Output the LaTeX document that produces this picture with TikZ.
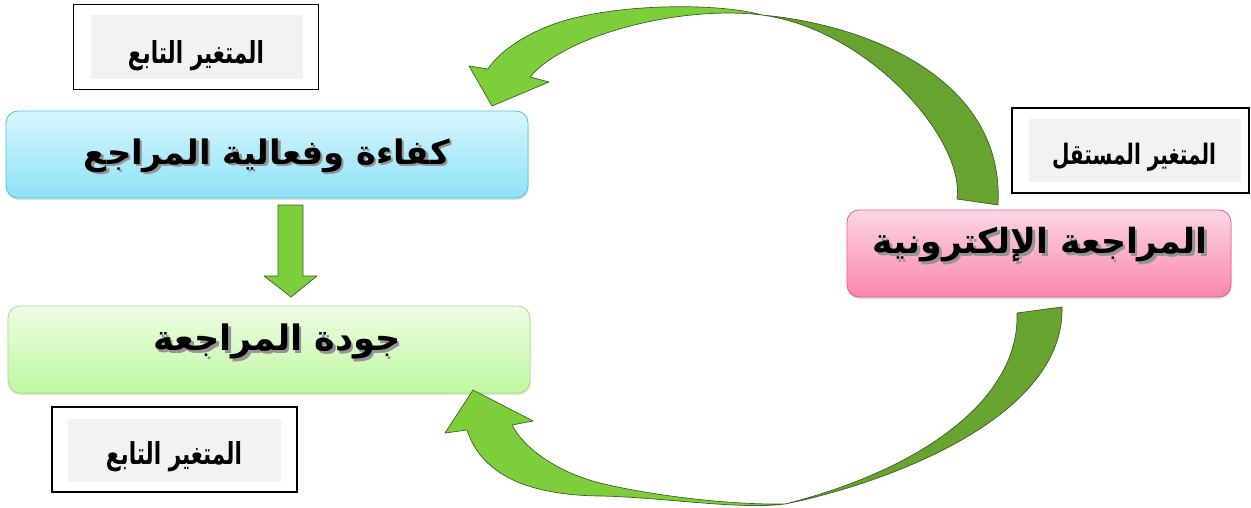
\documentclass[tikz,border=0pt]{standalone}
\usepackage{fontspec}
\usetikzlibrary{shadows}
\TeXXeTstate=1
\newfontfamily\arabicfont[Script=Arabic]{DejaVu Sans}
\newcommand{\artxt}[1]{{\arabicfont\beginR #1\endR}}
\newcommand{\shadowed}[1]{\leavevmode\rlap{\kern2.5pt\raisebox{-2.5pt}{\textcolor{black!42}{#1}}}#1}
\definecolor{bluetop}{HTML}{D8F6FD}
\definecolor{bluebot}{HTML}{8DE2F9}
\definecolor{blueline}{HTML}{52C2E4}
\definecolor{greentop}{HTML}{EEFDE4}
\definecolor{greenbot}{HTML}{BFF8A0}
\definecolor{greenline}{HTML}{A6DE86}
\definecolor{pinktop}{HTML}{FDD6E4}
\definecolor{pinkbot}{HTML}{FA86B0}
\definecolor{pinkline}{HTML}{E65A92}
\definecolor{arrlight}{HTML}{7CCF3A}
\definecolor{arrdark}{HTML}{66A32F}
\definecolor{arrline}{HTML}{3F5F28}
\definecolor{labgray}{HTML}{F2F2F2}
\begin{document}
\begin{tikzpicture}[x=1pt,y=-1pt,
  mainbox/.style={rounded corners=12pt, minimum height=87pt, line width=0.8pt,
    inner sep=0pt, drop shadow={opacity=0.25, shadow xshift=0.5pt, shadow yshift=-2pt}},
  labouter/.style={draw=black, line width=1.6pt, fill=white, inner sep=0pt},
  labinner/.style={fill=labgray, inner sep=0pt},
  maintxt/.style={inner sep=0pt, font=\fontsize{30}{36}\selectfont\bfseries},
  labtxt/.style={inner sep=0pt, font=\fontsize{18}{22}\selectfont\bfseries},
  lightarr/.style={fill=arrlight, draw=arrline, line width=0.7pt, line join=round},
  darkarr/.style={fill=arrdark, draw=arrline, line width=0.7pt, line join=round}
]
\useasboundingbox (0,0) rectangle (1251,508);

% label boxes
\node[labouter, minimum width=245pt, minimum height=85pt] (labA) at (196,47) {};
\node[labinner, minimum width=212pt, minimum height=64pt] (labAin) at (197,47.5) {};
\node[labtxt] (labAtxt) at (196,55.5) {\scalebox{1}[1.4]{\resizebox{136pt}{!}{\artxt{المتغير التابع}}}};

\node[labouter, minimum width=245pt, minimum height=85pt] (labB) at (174.5,449.5) {};
\node[labinner, minimum width=213pt, minimum height=63pt] (labBin) at (174.5,450.5) {};
\node[labtxt] (labBtxt) at (174,457) {\scalebox{1}[1.4]{\resizebox{136pt}{!}{\artxt{المتغير التابع}}}};

\node[labouter, minimum width=237pt, minimum height=85pt] (labC) at (1130.5,150.5) {};
\node[labinner, minimum width=212pt, minimum height=63pt] (labCin) at (1135,150.5) {};
\node[labtxt] (labCtxt) at (1134,157) {\scalebox{1}[1.4]{\resizebox{164pt}{!}{\artxt{المتغير المستقل}}}};

% main boxes
\node[mainbox, draw=blueline, top color=bluetop, bottom color=bluebot, minimum width=522pt] (eff) at (267,154.5) {};
\node[maintxt] (efftxt) at (267,157) {\shadowed{\resizebox{366pt}{!}{\artxt{كفاءة وفعالية المراجع}}}};

\node[mainbox, draw=greenline, top color=greentop, bottom color=greenbot, minimum width=522pt] (qual) at (269,349.5) {};
\node[maintxt] (qualtxt) at (277,343) {\shadowed{\resizebox{247pt}{!}{\artxt{جودة المراجعة}}}};

\node[mainbox, draw=pinkline, top color=pinktop, bottom color=pinkbot, minimum width=384pt] (eaud) at (1039,253.5) {};
\node[maintxt] (eaudtxt) at (1040,246) {\shadowed{\resizebox{335pt}{!}{\artxt{المراجعة الإلكترونية}}}};

% down arrow (blue box -> green box)
\draw[lightarr] (278,205) -- (303,205) -- (303,276) -- (317,276) -- (291,297) -- (264,276) -- (278,276) -- cycle;

% top curved arrow (pink box -> blue box)
\coordinate (tc) at (762,15);
\draw[darkarr] (tc) .. controls (870,25) and (1005,80) .. (998,205)
  -- (957,199) .. controls (965,140) and (870,30) .. (tc) -- cycle;
\draw[lightarr] (tc) .. controls (720,3) and (620,3) .. (560,22)
  .. controls (530,31.5) and (500,50) .. (488,69)
  -- (469,66) -- (492,106) -- (549,82) -- (530,77)
  .. controls (565,35) and (680,5) .. (tc) -- cycle;

% bottom curved arrow (pink box -> green box)
\coordinate (bc) at (785,504);
\draw[darkarr] (bc) .. controls (880,485) and (1065,420) .. (1062,307)
  -- (1017,313) .. controls (1020,400) and (920,470) .. (bc) -- cycle;
\draw[lightarr] (bc) .. controls (740,510) and (660,497) .. (600,496)
  .. controls (520,495) and (480,470) .. (467,430)
  -- (445,433) -- (473,390) -- (533,421) -- (512,425)
  .. controls (525,450) and (560,473) .. (600,483)
  .. controls (640,493) and (720,505) .. (bc) -- cycle;
\end{tikzpicture}
\end{document}
